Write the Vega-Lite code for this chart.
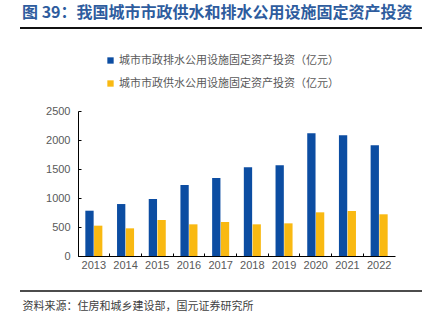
{
  "$schema": "https://vega.github.io/schema/vega-lite/v6.json",
  "width": 317,
  "height": 145,
  "autosize": {"type": "none"},
  "padding": {"left": 78, "top": 111, "right": 32, "bottom": 66},
  "background": "white",
  "title": {
    "text": "图 39：我国城市市政供水和排水公用设施固定资产投资",
    "orient": "top",
    "anchor": "start",
    "frame": "group",
    "dx": -56,
    "offset": 6,
    "font": "Noto Sans CJK SC",
    "fontSize": 16,
    "fontWeight": "bold",
    "color": "#2E5C9E"
  },
  "config": {
    "view": {"stroke": null},
    "font": "Liberation Sans"
  },
  "layer": [
    {
      "data": {
        "values": [
          {"year": "2013", "type": "城市市政排水公用设施固定资产投资（亿元）", "value": 781},
          {"year": "2013", "type": "城市市政供水公用设施固定资产投资（亿元）", "value": 523},
          {"year": "2014", "type": "城市市政排水公用设施固定资产投资（亿元）", "value": 896},
          {"year": "2014", "type": "城市市政供水公用设施固定资产投资（亿元）", "value": 477},
          {"year": "2015", "type": "城市市政排水公用设施固定资产投资（亿元）", "value": 983},
          {"year": "2015", "type": "城市市政供水公用设施固定资产投资（亿元）", "value": 621},
          {"year": "2016", "type": "城市市政排水公用设施固定资产投资（亿元）", "value": 1224},
          {"year": "2016", "type": "城市市政供水公用设施固定资产投资（亿元）", "value": 546},
          {"year": "2017", "type": "城市市政排水公用设施固定资产投资（亿元）", "value": 1345},
          {"year": "2017", "type": "城市市政供水公用设施固定资产投资（亿元）", "value": 586},
          {"year": "2018", "type": "城市市政排水公用设施固定资产投资（亿元）", "value": 1529},
          {"year": "2018", "type": "城市市政供水公用设施固定资产投资（亿元）", "value": 546},
          {"year": "2019", "type": "城市市政排水公用设施固定资产投资（亿元）", "value": 1563},
          {"year": "2019", "type": "城市市政供水公用设施固定资产投资（亿元）", "value": 563},
          {"year": "2020", "type": "城市市政排水公用设施固定资产投资（亿元）", "value": 2115},
          {"year": "2020", "type": "城市市政供水公用设施固定资产投资（亿元）", "value": 753},
          {"year": "2021", "type": "城市市政排水公用设施固定资产投资（亿元）", "value": 2080},
          {"year": "2021", "type": "城市市政供水公用设施固定资产投资（亿元）", "value": 776},
          {"year": "2022", "type": "城市市政排水公用设施固定资产投资（亿元）", "value": 1908},
          {"year": "2022", "type": "城市市政供水公用设施固定资产投资（亿元）", "value": 719}
        ]
      },
      "mark": {"type": "bar"},
      "encoding": {
        "x": {
          "field": "year",
          "type": "nominal",
          "scale": {"paddingInner": 0, "paddingOuter": 0},
          "axis": {
            "title": "资料来源：住房和城乡建设部，国元证券研究所",
            "titleFont": "Noto Sans CJK SC",
            "titleFontSize": 11,
            "titleFontWeight": "normal",
            "titleColor": "#404040",
            "titleAnchor": "start",
            "titleAlign": "left",
            "titleBaseline": "middle",
            "titleX": -56,
            "titleY": 50,
            "labelAngle": 0,
            "labelFontSize": 11,
            "labelColor": "#595959",
            "labelPadding": 6,
            "bandPosition": 0,
            "tickSize": -3,
            "tickColor": "#000000",
            "domainColor": "#000000",
            "domainWidth": 1
          }
        },
        "xOffset": {
          "field": "type",
          "type": "nominal",
          "sort": ["城市市政排水公用设施固定资产投资（亿元）", "城市市政供水公用设施固定资产投资（亿元）"],
          "scale": {"paddingInner": 0.05, "paddingOuter": 0.84}
        },
        "y": {
          "field": "value",
          "type": "quantitative",
          "scale": {"domain": [0, 2500]},
          "axis": {
            "title": null,
            "values": [0, 500, 1000, 1500, 2000, 2500],
            "format": "d",
            "grid": false,
            "labelFontSize": 11,
            "labelColor": "#595959",
            "labelPadding": 11,
            "tickSize": -3,
            "tickColor": "#000000",
            "domainColor": "#000000"
          }
        },
        "color": {
          "field": "type",
          "type": "nominal",
          "sort": ["城市市政排水公用设施固定资产投资（亿元）", "城市市政供水公用设施固定资产投资（亿元）"],
          "scale": {"range": ["#0C4DA2", "#F9B912"]},
          "legend": {
            "title": null,
            "orient": "none",
            "legendX": 27,
            "legendY": -56,
            "symbolType": "square",
            "symbolSize": 40,
            "symbolStrokeWidth": 0,
            "labelFont": "Noto Sans CJK SC",
            "labelFontSize": 11,
            "labelColor": "#595959",
            "labelLimit": 400,
            "rowPadding": 11,
            "labelOffset": 3
          }
        }
      }
    },
    {
      "data": {"values": [{"pos": "top"}]},
      "mark": {"type": "rule", "stroke": "#111111", "strokeWidth": 2},
      "encoding": {"x": {"value": -58}, "x2": {"value": 344}, "y": {"value": -83}}
    },
    {
      "data": {"values": [{"pos": "bottom"}]},
      "mark": {"type": "rule", "stroke": "#111111", "strokeWidth": 1.5},
      "encoding": {"x": {"value": -58}, "x2": {"value": 344}, "y": {"value": 180}}
    }
  ]
}
